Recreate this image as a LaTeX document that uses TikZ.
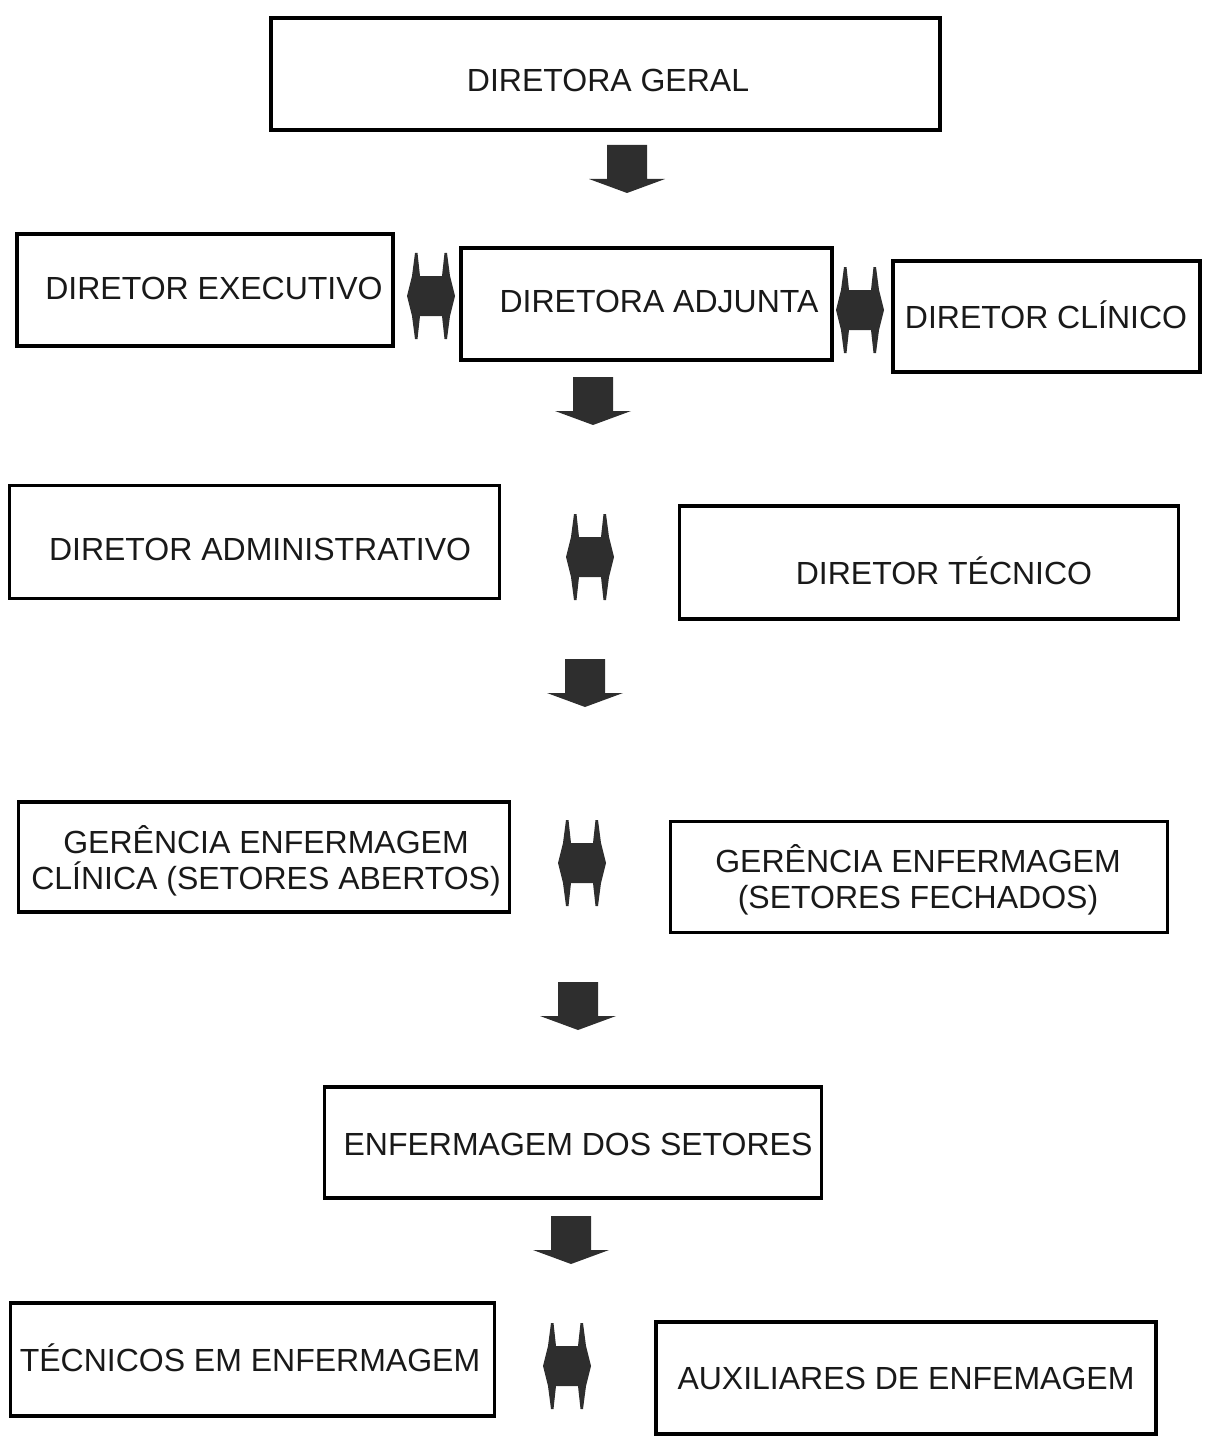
\documentclass[tikz,border=0pt]{standalone}
\usepackage{fontspec}
\setmainfont{Liberation Sans}
\definecolor{arrowgray}{HTML}{2E2E2E}
\tikzset{
  box/.style={draw=black, line width=3.5pt, fill=white, rectangle, inner sep=0pt},
  lbl/.style={font=\fontsize{32}{36}\selectfont, align=center, inner sep=0pt, text=black!90},
  downarrow/.pic={
    \fill[arrowgray] (-20,-24) -- (20,-24) -- (20,10) -- (38,10) -- (0,24) -- (-38,10) -- (-20,10) -- cycle;
  },
  dblarrow/.pic={
    \fill[arrowgray] (-24,0) -- (-19,-20) -- (-16,-43) -- (-13.5,-43) -- (-11,-20) -- (11,-20) -- (13.5,-43) -- (16,-43) -- (19,-20) -- (24,0) -- (19,20) -- (16,43) -- (13.5,43) -- (11,20) -- (-11,20) -- (-13.5,43) -- (-16,43) -- (-19,20) -- cycle;
  }
}
\begin{document}
\begin{tikzpicture}[x=1pt, y=-1pt]
\useasboundingbox (0,0) rectangle (1205,1439);
% boxes
\node[box, minimum width=669pt, minimum height=112pt] (b1) at (605.5,74) {};
\node[box, minimum width=376pt, minimum height=112pt] (b2) at (205,290) {};
\node[box, minimum width=371pt, minimum height=112pt] (b3) at (646.5,304) {};
\node[box, minimum width=307pt, minimum height=111pt] (b4) at (1046.5,316.5) {};
\node[box, minimum width=490pt, minimum height=113pt] (b5) at (254.5,542) {};
\node[box, minimum width=499pt, minimum height=113pt] (b6) at (929,562.5) {};
\node[box, minimum width=491pt, minimum height=110pt] (b7) at (264,857) {};
\node[box, minimum width=497pt, minimum height=111pt] (b8) at (919,877) {};
\node[box, minimum width=497pt, minimum height=111pt] (b9) at (573,1142.5) {};
\node[box, minimum width=484pt, minimum height=113pt] (b10) at (252.5,1359.5) {};
\node[box, minimum width=500pt, minimum height=112pt] (b11) at (906,1378) {};
% labels
\node[lbl] (t1) at (608,80) {DIRETORA GERAL};
\node[lbl] (t2) at (214,288) {DIRETOR EXECUTIVO};
\node[lbl] (t3) at (659,301) {DIRETORA ADJUNTA};
\node[lbl] (t4) at (1046,315) {DIRETOR CLÍNICO};
\node[lbl] (t5) at (260,549) {DIRETOR ADMINISTRATIVO};
\node[lbl] (t6) at (944,571) {DIRETOR TÉCNICO};
\node[lbl] (t7) at (266,861) {GERÊNCIA ENFERMAGEM\\CLÍNICA (SETORES ABERTOS)};
\node[lbl] (t8) at (918,880) {GERÊNCIA ENFERMAGEM\\(SETORES FECHADOS)};
\node[lbl] (t9) at (578,1144) {ENFERMAGEM DOS SETORES};
\node[lbl] (t10) at (250,1358) {TÉCNICOS EM ENFERMAGEM};
\node[lbl] (t11) at (906,1378) {AUXILIARES DE ENFEMAGEM};
% down arrows
\pic at (627,169) {downarrow};
\pic at (593,401) {downarrow};
\pic at (585,683) {downarrow};
\pic at (578,1006) {downarrow};
\pic at (571,1240) {downarrow};
% double arrows
\pic at (431,296) {dblarrow};
\pic at (860,310) {dblarrow};
\pic at (590,557) {dblarrow};
\pic at (582,863) {dblarrow};
\pic at (567,1366) {dblarrow};
\end{tikzpicture}
\end{document}
